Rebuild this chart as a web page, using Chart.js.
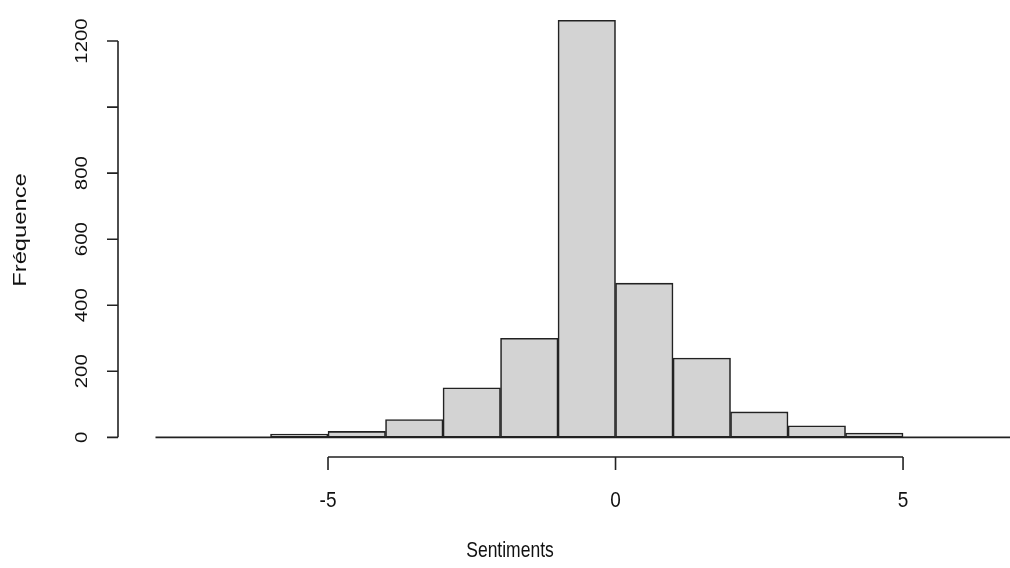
<!DOCTYPE html>
<html>
<head>
<meta charset="utf-8">
<script src="https://cdn.jsdelivr.net/npm/chart.js@4/dist/chart.umd.min.js"></script>
<style>
  html, body { margin: 0; padding: 0; background: #ffffff; }
  #wrap { width: 1010px; height: 568px; }
</style>
</head>
<body>
<div id="wrap"><canvas id="c" width="1010" height="568"></canvas></div>
<script>
// ---- data ----
const binStarts = [-8, -7, -6, -5, -4, -3, -2, -1, 0, 1, 2, 3, 4, 5, 6];
const binWidth = 1;
const counts = [0, 0, 10, 18, 54, 150, 300, 1263, 467, 240, 77, 35, 13, 0, 0];
const yTicks = [0, 200, 400, 600, 800, 1000, 1200];
const yTickLabels = ['0', '200', '400', '600', '800', '', '1200'];
const xTicks = [-5, 0, 5];
const xTickLabels = ['-5', '0', '5'];
const xTitle = 'Sentiments';
const yTitle = 'Fréquence';

const points = binStarts.map((s, i) => ({ x: s + binWidth / 2, y: counts[i] }));

const FONT = '"Liberation Sans", Arial, sans-serif';

function drawText(ctx, text, x, y, rot, size, stretch) {
  ctx.save();
  ctx.translate(x, y);
  ctx.rotate(rot);
  if (rot === 0) ctx.scale(1, stretch); else ctx.scale(stretch, 1);
  ctx.font = size + 'px ' + FONT;
  ctx.fillStyle = '#111';
  ctx.textAlign = 'center';
  ctx.textBaseline = 'middle';
  ctx.fillText(text, 0, 0);
  ctx.restore();
}

const rAxes = {
  id: 'rAxes',
  beforeDraw(chart) {
    const ctx = chart.ctx;
    ctx.save();
    ctx.fillStyle = '#fff';
    ctx.fillRect(0, 0, chart.width, chart.height);
    ctx.restore();
  },
  beforeDatasetsDraw(chart) {
    const xs = chart.scales.x, ys = chart.scales.y, ctx = chart.ctx;
    const y0 = ys.getPixelForValue(0);
    ctx.save();
    ctx.strokeStyle = '#222';
    ctx.lineWidth = 1.6;
    ctx.beginPath();
    ctx.moveTo(xs.getPixelForValue(binStarts[0]), y0);
    ctx.lineTo(Math.min(chart.chartArea.right, xs.getPixelForValue(binStarts[binStarts.length - 1] + binWidth)), y0);
    ctx.stroke();
    ctx.restore();
  },
  afterDraw(chart) {
    const xs = chart.scales.x, ys = chart.scales.y, ctx = chart.ctx;
    ctx.save();
    ctx.strokeStyle = '#222';
    ctx.lineWidth = 1.6;
    // y axis
    const axX = 118, tickX = 107;
    ctx.beginPath();
    ctx.moveTo(axX, ys.getPixelForValue(yTicks[0]));
    ctx.lineTo(axX, ys.getPixelForValue(yTicks[yTicks.length - 1]));
    yTicks.forEach(v => {
      const p = ys.getPixelForValue(v);
      ctx.moveTo(tickX, p); ctx.lineTo(axX, p);
    });
    ctx.stroke();
    yTicks.forEach((v, i) => {
      if (yTickLabels[i]) drawText(ctx, yTickLabels[i], 82, ys.getPixelForValue(v), -Math.PI / 2, 17, 1.2);
    });
    // x axis
    const axY = 457, tickY = 470;
    ctx.beginPath();
    ctx.moveTo(xs.getPixelForValue(xTicks[0]), axY);
    ctx.lineTo(xs.getPixelForValue(xTicks[xTicks.length - 1]), axY);
    xTicks.forEach(v => {
      const p = xs.getPixelForValue(v);
      ctx.moveTo(p, axY); ctx.lineTo(p, tickY);
    });
    ctx.stroke();
    xTicks.forEach((v, i) => drawText(ctx, xTickLabels[i], xs.getPixelForValue(v), 501, 0, 19, 1.15));
    // titles
    drawText(ctx, xTitle, 510, 551, 0, 17.5, 1.25);
    drawText(ctx, yTitle, 21, 230, -Math.PI / 2, 19, 1.25);
    ctx.restore();
  }
};

new Chart(document.getElementById('c'), {
  type: 'bar',
  data: {
    datasets: [{
      data: points,
      backgroundColor: '#d3d3d3',
      borderColor: '#222',
      borderWidth: 1.6,
      borderSkipped: false,
      barPercentage: 1,
      categoryPercentage: 1
    }]
  },
  options: {
    responsive: false,
    animation: false,
    layout: { padding: { left: 155.5, right: 0, top: 8, bottom: 112.5 } },
    plugins: { legend: { display: false }, tooltip: { enabled: false } },
    scales: {
      x: {
        type: 'linear', min: -8, max: 6.86, display: false, offset: false,
        afterBuildTicks: s => { s.ticks = binStarts.map(v => ({ value: v })); }
      },
      y: { min: -55, max: 1300, display: false }
    }
  },
  plugins: [rAxes]
});
</script>
</body>
</html>
